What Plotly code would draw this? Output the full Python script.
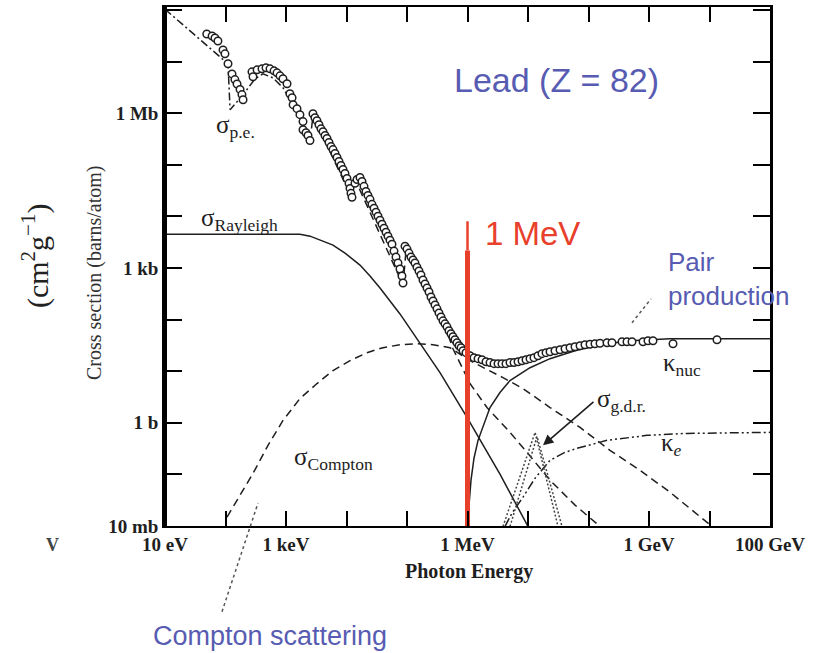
import numpy as np
import plotly.graph_objects as go

# ---- Photon cross sections for lead (barns/atom) vs photon energy (eV) ----

# Measured total cross section (open circles)
total_energy_eV = [
    49, 60, 67, 75, 91, 98, 110, 128, 143, 155, 174, 187, 195,
    274, 285, 332, 401, 467, 544, 634, 710, 796, 891, 1040, 1160, 1260, 1310,
    1520, 1700, 1910, 1910, 2140, 2310, 2490,
    2790, 3010, 3250, 3510, 3790, 4090, 4420, 4760, 5140, 5550, 5980, 6460,
    6970, 7520, 8110, 8750, 9440, 10190, 10990, 11430, 11860, 12330,
    13810, 14920, 16710, 18030, 19450, 20990, 22650, 24440, 26370, 28510,
    30760, 33190, 35810, 38640, 41690, 44980, 48530, 52360, 56490, 60950,
    65770, 70960, 76560, 82600, 85900,
    92700, 1.000e5, 1.079e5, 1.164e5, 1.256e5, 1.355e5, 1.462e5, 1.578e5,
    1.702e5, 1.837e5, 1.986e5, 2.143e5, 2.312e5, 2.495e5, 2.692e5, 2.904e5,
    3.133e5, 3.381e5, 3.648e5, 3.936e5, 4.246e5, 4.581e5, 4.943e5, 5.333e5,
    5.754e5, 6.209e5, 6.699e5, 7.244e5, 7.816e5, 8.433e5, 9.441e5,
    1.099e6, 1.280e6, 1.493e6, 1.738e6, 2.023e6, 2.355e6, 2.742e6, 3.192e6,
    3.715e6, 4.325e6, 5.035e6, 5.875e6, 6.839e6, 7.962e6, 9.268e6, 1.079e7,
    1.256e7, 1.462e7, 1.702e7, 1.986e7, 2.312e7, 2.793e7, 3.381e7, 4.092e7,
    4.943e7, 5.984e7, 7.244e7, 8.750e7, 1.059e8, 1.280e8, 1.549e8, 2.023e8,
    2.443e8, 3.581e8, 4.325e8, 5.236e8, 7.962e8, 9.616e8, 1.164e9, 2.494e9,
    1.330e10,
]
total_sigma_b = [
    3.44e7, 3.15e7, 2.88e7, 2.52e7, 1.69e7, 1.42e7, 9.1e6, 5.8e6, 4.5e6, 3.7e6, 2.9e6, 2.3e6, 1.83e6,
    6.35e6, 5.1e6, 6.95e6, 7.26e6, 7.59e6, 7.26e6, 6.64e6, 6.08e6, 5.32e6, 4.66e6, 3.73e6, 2.39e6, 2.0e6, 1.47e6,
    1.23e6, 9.4e5, 6.9e5, 4.8e5, 4.2e5, 3.7e5, 2.96e5,
    9.8e5, 8.2e5, 7.2e5, 6.0e5, 5.0e5, 4.4e5, 3.7e5, 3.24e5, 2.71e5, 2.26e5, 1.98e5, 1.66e5,
    1.39e5, 1.16e5, 9.7e4, 8.15e4, 6.8e4, 5.46e4, 4.38e4, 3.5e4, 2.81e4, 2.35e4,
    4.38e4, 5.2e4, 5.7e4, 4.78e4, 3.83e4, 3.06e4, 2.56e4, 2.15e4, 1.72e4, 1.44e4,
    1.21e4, 1.01e4, 8450, 7070, 5920, 4950, 4150, 3470, 2900, 2130,
    1630, 1250, 957, 701, 513,
    2660, 2330, 1950, 1630, 1430, 1250, 1040, 875,
    733, 586, 491, 411, 344, 275, 231, 193,
    162, 135, 113, 94.8, 83.0, 72.6, 60.8, 53.2,
    46.6, 40.7, 35.6, 31.2, 28.6, 25.0, 22.9,
    20.0, 18.3, 17.5, 16.7, 15.3, 14.7, 14.0, 14.0,
    14.0, 14.0, 14.7, 14.7, 15.3, 16.0, 16.7, 17.5,
    18.3, 20.0, 21.9, 22.9, 23.9, 25.0, 26.1, 27.3,
    28.6, 29.8, 31.2, 32.6, 33.3, 34.1, 34.8, 35.6,
    35.6, 37.2, 37.2, 37.2, 37.2, 39.0, 39.0, 34.1,
    40.7,
]

# Photoelectric absorption
pe_energy_eV = [10, 110, 119, 195, 308, 417, 610, 891, 1306, 1703, 2494, 2793,
                12330, 14350, 85900, 96200, 4.246e5, 5.754e5, 1.099e6, 2.10e6,
                5.035e6, 9.62e6, 2.312e7, 5.984e7, 1.67e8]
pe_sigma_b = [1.04e8, 9.1e6, 1.17e6, 2.29e6, 4.66e6, 5.81e6, 4.86e6, 3.12e6, 1.47e6, 8.2e5, 2.83e5, 9.0e5,
              2.24e4, 4.78e4, 470, 2130, 75.9, 27.3, 5.77, 1.98,
              0.653, 0.268, 0.0773, 0.0254, 0.0091]

# Coherent (Rayleigh) scattering
rayleigh_energy_eV = [10, 1703, 2494, 3648, 5984, 9441, 16710, 24440, 35810, 76560,
                      1.64e5, 3.51e5, 9.82e5, 3.44e6, 1.0e7]
rayleigh_sigma_b = [4530, 4530, 4150, 3470, 2780, 1950, 1143, 701, 411, 129,
                    35.6, 9.40, 1.27, 0.101, 0.0098]

# Incoherent (Compton) scattering
compton_energy_eV = [106, 133, 174, 285, 504, 891, 1703, 3252, 5984, 11430, 21830, 40090,
                     76560, 1.462e5, 2.692e5, 5.14e5, 1.099e6, 2.355e6, 3.86e6, 8.26e6,
                     2.312e7, 7.244e7, 2.26e8, 7.10e8, 2.22e9, 1.10e10]
compton_sigma_b = [0.0149, 0.0233, 0.0415, 0.105, 0.366, 1.11, 2.96, 5.77, 10.3, 16.0, 22.9, 28.6,
                   32.6, 34.1, 32.6, 28.6, 16.0, 10.3, 7.52, 4.61,
                   1.98, 0.815, 0.293, 0.120, 0.0453, 0.0098]

# Pair production in the nuclear field
kappa_nuc_energy_eV = [1.02e6, 1.059e6, 1.143e6, 1.28e6, 1.493e6, 2.355e6, 3.44e6, 5.035e6,
                       1.079e7, 2.312e7, 5.984e7, 1.549e8, 4.85e8, 2.22e9, 1.0e11]
kappa_nuc_sigma_b = [0.005, 0.0254, 0.0773, 0.206, 0.457, 1.98, 3.86, 6.59,
                     11.7, 17.5, 25.0, 32.6, 39.0, 42.6, 42.6]

# Pair production in the electron field
kappa_e_energy_eV = [4.17e6, 5.44e6, 8.26e6, 1.31e7, 2.312e7, 4.092e7, 6.46e7, 2.02e8,
                     9.27e8, 4.25e9, 1.0e11]
kappa_e_sigma_b = [0.0098, 0.0178, 0.0363, 0.0845, 0.188, 0.268, 0.321, 0.457,
                   0.571, 0.624, 0.653]

# Photonuclear (giant dipole resonance), two overlapping curves
gdr_a_energy_eV = [3.86e6, 1.31e7, 3.13e7]
gdr_a_sigma_b = [0.0098, 0.653, 0.0098]
gdr_b_energy_eV = [5.04e6, 1.41e7, 3.65e7]
gdr_b_sigma_b = [0.0098, 0.546, 0.0098]

# 1 MeV marker and g.d.r. arrow (tail -> head)
marker_energy_eV = 1.0e6
marker_sigma_b = [0.0098, 2200, 8070]
gdr_arrow_tail = (1.28e8, 2.70)
gdr_arrow_head = (1.77e7, 0.366)

# Labelled decades and unlabelled decade ticks
x_tick_values = [1e1, 1e3, 1e6, 1e9, 1e11]
x_tick_text = ["10 eV", "1 keV", "1 MeV", "1 GeV", "100 GeV"]
x_minor_values = [1e2, 1e4, 1e5, 1e7, 1e8, 1e10]
y_tick_values = [1e-2, 1e0, 1e3, 1e6]
y_tick_text = ["10 mb", "1 b", "1 kb", "1 Mb"]
y_minor_values = [1e-1, 1e1, 1e2, 1e4, 1e5, 1e7, 1e8]

INK = "#1e1e1e"
BLUE = "#575cb2"
RED = "#e8402b"
SERIF = "Liberation Serif"
SANS = "Liberation Sans"

fig = go.Figure()


def curve(x, y, dash, width=1.5, color=INK):
    fig.add_trace(go.Scatter(x=x, y=y, mode="lines",
                             line=dict(color=color, width=width, dash=dash),
                             hoverinfo="skip"))


split = 9  # dash-dot below ~1.7 keV, long dashes above
curve(pe_energy_eV[:split + 1], pe_sigma_b[:split + 1], "8px,3px,2px,3px")
curve(pe_energy_eV[split:], pe_sigma_b[split:], "8px,5px")
curve(rayleigh_energy_eV, rayleigh_sigma_b, "solid")
curve(compton_energy_eV, compton_sigma_b, "8px,5px")
curve(kappa_nuc_energy_eV, kappa_nuc_sigma_b, "solid")
curve(kappa_e_energy_eV, kappa_e_sigma_b, "9px,3px,2px,3px,2px,3px")
curve(gdr_a_energy_eV, gdr_a_sigma_b, "2px,2px", width=1.5, color="#444444")
curve(gdr_b_energy_eV, gdr_b_sigma_b, "2px,2px", width=1.5, color="#444444")

fig.add_trace(go.Scatter(
    x=total_energy_eV, y=total_sigma_b, mode="markers",
    marker=dict(symbol="circle", size=7.5, color="white",
                line=dict(color=INK, width=1.5)),
    hoverinfo="skip"))

# 1 MeV red stroke
fig.add_trace(go.Scatter(x=[marker_energy_eV] * 2, y=marker_sigma_b[:2], mode="lines",
                         line=dict(color=RED, width=5), hoverinfo="skip"))
fig.add_trace(go.Scatter(x=[marker_energy_eV] * 2, y=marker_sigma_b[1:], mode="lines",
                         line=dict(color=RED, width=2.5), hoverinfo="skip"))

axis_common = dict(
    type="log", ticks="inside", tickcolor="black", tickwidth=2,
    showline=True, linecolor="black", mirror="ticks",
    showgrid=False, zeroline=False,
    tickfont=dict(family=SERIF, size=19, color=INK, weight="bold"),
)
fig.update_xaxes(range=[1, 11], tickmode="array", tickvals=x_tick_values, ticktext=x_tick_text,
                 ticklen=15, linewidth=2,
                 minor=dict(tickmode="array", tickvals=x_minor_values, ticks="inside",
                            ticklen=15, tickwidth=2, tickcolor="black", showgrid=False),
                 **axis_common)
fig.update_yaxes(range=[-2, 8.06], tickmode="array", tickvals=y_tick_values, ticktext=y_tick_text,
                 ticklen=17, linewidth=2.5,
                 minor=dict(tickmode="array", tickvals=y_minor_values, ticks="inside",
                            ticklen=17, tickwidth=2, tickcolor="black", showgrid=False),
                 **axis_common)


def px_to_paper(px, py):
    return (px - 165) / 605, (526 - py) / 521


def note(text, px, py, size, color=INK, family=SERIF, xanchor="left", angle=0, weight="normal"):
    xp, yp = px_to_paper(px, py)
    fig.add_annotation(x=xp, y=yp, xref="paper", yref="paper", text=text,
                       showarrow=False, xanchor=xanchor, yanchor="middle",
                       textangle=angle, align="left",
                       font=dict(family=family, size=size, color=color, weight=weight))


note("Lead (Z = 82)", 556, 78, 34, BLUE, SANS, "center")
note("1 MeV", 483, 232, 33, RED, SANS)
note("Pair<br>production", 666, 278, 26, BLUE, SANS)
note("Compton scattering", 270, 636, 27, BLUE, SANS, "center")

note("σ<sub>p.e.</sub>", 214, 125, 25)
note("σ<sub>Rayleigh</sub>", 199, 218, 25)
note("σ<sub>Compton</sub>", 292, 458, 25)
note("κ<sub>nuc</sub>", 661, 364, 25)
note("σ<sub>g.d.r.</sub>", 595, 400, 25)
note("κ<sub><i>e</i></sub>", 659, 444, 25)

note("Cross section (barns/atom)", 95, 272, 20, "#333333", SERIF, "center", -90)
note("(cm<sup>2</sup>g<sup>−1</sup>)", 35, 255, 30, "#222222", SERIF, "center", -90)
note("Photon Energy", 469, 572, 20, INK, SERIF, "center", weight="bold")
note("V", 52, 545, 18, "#444444", SERIF, "center", weight="bold")

# g.d.r. arrow
fig.add_annotation(x=np.log10(gdr_arrow_head[0]), y=np.log10(gdr_arrow_head[1]),
                   ax=np.log10(gdr_arrow_tail[0]), ay=np.log10(gdr_arrow_tail[1]),
                   xref="x", yref="y", axref="x", ayref="y", text="",
                   showarrow=True, arrowhead=2, arrowsize=1.3, arrowwidth=1.6,
                   arrowcolor=INK)

# dotted pointers from the blue labels
for (x0, y0), (x1, y1) in [((632, 322), (651, 298)), ((222, 612), (258, 503))]:
    a0, b0 = px_to_paper(x0, y0)
    a1, b1 = px_to_paper(x1, y1)
    fig.add_shape(type="line", xref="paper", yref="paper", x0=a0, y0=b0, x1=a1, y1=b1,
                  line=dict(color="#555555", width=1.5, dash="dot"))

# heavier left frame
fig.add_shape(type="line", xref="paper", yref="paper", x0=0, y0=0, x1=0, y1=1,
              line=dict(color="black", width=4))

fig.update_layout(width=819, height=653, autosize=False,
                  margin=dict(l=165, r=49, t=5, b=127),
                  paper_bgcolor="white", plot_bgcolor="white", showlegend=False)

fig.write_html("out.html")
